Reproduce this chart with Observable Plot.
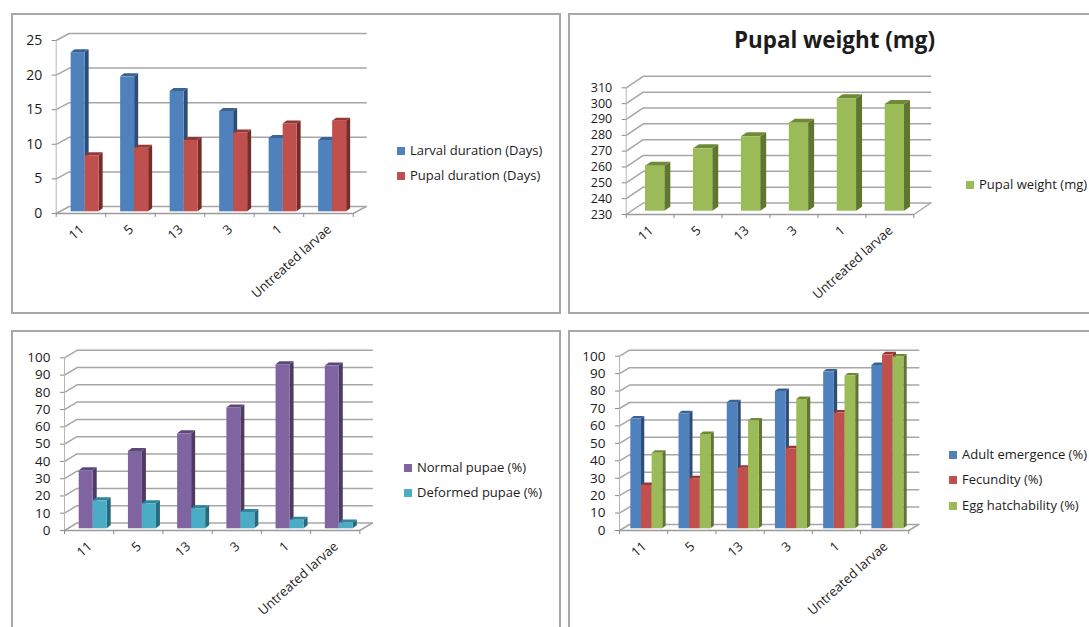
<!DOCTYPE html>
<html>
<head>
<meta charset="utf-8">
<script src="https://cdn.jsdelivr.net/npm/d3@7"></script>
<script src="https://cdn.jsdelivr.net/npm/@observablehq/plot@0.6"></script>
<style>
  html, body { margin: 0; padding: 0; background: #fff; }
  #page { position: relative; width: 1089px; height: 627px; overflow: hidden; font-family: "Open Sans", sans-serif; color: #1c1c1c; }
  .panel { position: absolute; box-sizing: border-box; border: 2px solid #a8a8a8; }
  #page svg { position: absolute; overflow: visible; background: none; }
  .legend { position: absolute; font-size: 13px; line-height: 16px; white-space: nowrap; }
  .legend i { position: absolute; left: 0; top: 4px; width: 8px; height: 8px; }
  .legend span { position: absolute; left: 13px; top: -1px; }
  .title { position: absolute; font-weight: 700; white-space: nowrap; }
</style>
</head>
<body>
<div id="page"></div>
<script>
const categories = ["11", "5", "13", "3", "1", "Untreated larvae"];

const larvalDuration = [23, 19.5, 17.4, 14.5, 10.6, 10.3];
const pupalDuration = [8.1, 9.2, 10.3, 11.4, 12.7, 13.1];
const pupalWeight = [258.4, 269.4, 277, 285.6, 301, 297.4];
const normalPupae = [33.6, 44.8, 55, 70, 95, 94.2];
const deformedPupae = [16.2, 14.5, 11.6, 9.5, 5, 3.3];
const adultEmergence = [63, 66, 72.3, 78.8, 89.9, 93.7];
const fecundity = [24.9, 28.7, 34.8, 45.9, 66.4, 99.8];
const eggHatchability = [43.4, 54.1, 61.8, 74.2, 87.6, 98.5];

const durationTicks = [0, 5, 10, 15, 20, 25];
const weightTicks = [230, 240, 250, 260, 270, 280, 290, 300, 310];
const percentTicks = [0, 10, 20, 30, 40, 50, 60, 70, 80, 90, 100];

// Office-style theme colours: front, top and side faces of a column
const blue = { front: "#4f81bd", top: "#3a6394", side: "#2c4d75" };
const red = { front: "#c0504d", top: "#953735", side: "#772c2a" };
const green = { front: "#9bbb59", top: "#6f8a36", side: "#5f7530" };
const purple = { front: "#8064a2", top: "#5c4776", side: "#4d3b62" };
const teal = { front: "#4bacc6", top: "#31859b", side: "#276a7c" };

const page = document.getElementById("page");
const gridColor = "#a6a6a6";
const font = '"Open Sans", sans-serif';

// Draws one pseudo-3D clustered column chart inside a page region.
function columnChart(c) {
  const n = categories.length;
  const width = c.box[2], height = c.box[3];
  const marginLeft = c.xL - c.box[0], marginRight = c.box[0] + width - c.xR;
  const marginTop = c.yT - c.box[1], marginBottom = c.box[1] + height - c.yB;
  const [y0, y1] = c.domain;
  const ux = px => px * n / (c.xR - c.xL);
  const uy = px => px * (y1 - y0) / (c.yB - c.yT);

  // Side wall and back wall grid lines, running from the axis into the depth
  const wall = c.ticks.flatMap(t => [
    { t, x: 0, y: t },
    { t, x: ux(c.depth[0]), y: t + uy(c.depth[1]) },
    { t, x: n + ux(c.depth[0]), y: t + uy(c.depth[1]) }
  ]);
  const floorEdge = [
    { x: n, y: y0 },
    { x: n + ux(c.depth[0]), y: y0 + uy(c.depth[1]) }
  ];

  const slot = ux(c.group) / c.series.length;
  const dx = ux(c.bar[0]), dy = uy(c.bar[1]), lift = uy(c.shift[1]);

  const columns = c.series.flatMap((s, k) => {
    const rows = s.values.map((v, i) => {
      const left = i + 0.5 - ux(c.group) / 2 + ux(c.shift[0]) + k * slot;
      return { i, left, right: left + slot, top: v + lift };
    });
    const side = rows.flatMap(r => [
      { i: r.i, x: r.right, lo: y0 + lift, hi: r.top },
      { i: r.i, x: r.right + dx, lo: y0 + lift + dy, hi: r.top + dy }
    ]);
    const cap = rows.flatMap(r => [
      { i: r.i, x: r.left, lo: r.top, hi: r.top },
      { i: r.i, x: r.left + dx, lo: r.top, hi: r.top + dy },
      { i: r.i, x: r.right, lo: r.top, hi: r.top + dy },
      { i: r.i, x: r.right + dx, lo: r.top + dy, hi: r.top + dy }
    ]);
    return [
      Plot.area(side, { x1: "x", y1: "lo", y2: "hi", z: "i", fill: s.color.side }),
      Plot.area(cap, { x1: "x", y1: "lo", y2: "hi", z: "i", fill: s.color.top }),
      Plot.rect(rows, { x1: "left", x2: "right", y1: y0 + lift, y2: "top", fill: s.color.front })
    ];
  });

  const svg = Plot.plot({
    width, height, marginLeft, marginRight, marginTop, marginBottom,
    style: { fontFamily: font, fontSize: "13px", color: "#1c1c1c", background: "none" },
    x: { domain: [0, n], axis: null },
    y: { domain: c.domain, axis: null },
    marks: [
      Plot.line(wall, { x: "x", y: "y", z: "t", stroke: gridColor, strokeWidth: 1.5 }),
      Plot.line(floorEdge, { x: "x", y: "y", stroke: gridColor, strokeWidth: 1.5 }),
      Plot.ruleX([0], { stroke: "#b5b5b5", strokeWidth: 1 }),
      Plot.ruleY([y0], { stroke: "#9a9a9a", strokeWidth: 1.5 }),
      ...columns,
      Plot.axisY({ ticks: c.ticks, tickSize: 4, tickPadding: 10, stroke: "#8a8a8a", fill: "#1c1c1c", label: null, fontSize: c.tickFont }),
      Plot.axisX({ ticks: d3.range(n + 1), tickSize: 4, stroke: "#8a8a8a", tickFormat: () => "", label: null }),
      Plot.axisX({
        ticks: categories.map((_, i) => i + 0.5),
        tickFormat: v => categories[v - 0.5],
        tickSize: 0, tickPadding: 14, tickRotate: -42, dx: 1, fill: "#1c1c1c", label: null,
        lineAnchor: "middle", textAnchor: "end", fontSize: 13
      })
    ]
  });
  svg.style.left = c.box[0] + "px";
  svg.style.top = c.box[1] + "px";
  page.appendChild(svg);
}

function frame(left, top, width, height) {
  const d = document.createElement("div");
  d.className = "panel";
  Object.assign(d.style, { left: left + "px", top: top + "px", width: width + "px", height: height + "px" });
  page.appendChild(d);
}

function legend(x, entries) {
  for (const [label, color, y] of entries) {
    const d = document.createElement("div");
    d.className = "legend";
    d.style.left = x + "px";
    d.style.top = (y - 8) + "px";
    const sw = document.createElement("i");
    sw.style.background = color;
    const tx = document.createElement("span");
    tx.textContent = label;
    d.append(sw, tx);
    page.appendChild(d);
  }
}

frame(11, 13, 550, 301);
frame(568, 13, 560, 301);
frame(11, 330, 550, 320);
frame(568, 330, 560, 320);

columnChart({
  box: [11, 13, 550, 301], xL: 55.7, xR: 352.7, yB: 213, yT: 40,
  domain: [0, 25], ticks: durationTicks, depth: [13, 7], tickFont: 14,
  group: 28, shift: [4.2, 1.7], bar: [4, 3],
  series: [{ values: larvalDuration, color: blue }, { values: pupalDuration, color: red }]
});
columnChart({
  box: [568, 13, 521, 301], xL: 625.7, xR: 913.3, yB: 214, yT: 87.3,
  domain: [230, 310], ticks: weightTicks, depth: [17, 11.5], tickFont: 12.5,
  group: 19.3, shift: [5, 3.3], bar: [6, 4],
  series: [{ values: pupalWeight, color: green }]
});
columnChart({
  box: [11, 330, 550, 297], xL: 64, xR: 359.3, yB: 530, yT: 357.3,
  domain: [0, 100], ticks: percentTicks, depth: [12.5, 7.5], tickFont: 13.5,
  group: 28, shift: [4.1, 1.7], bar: [4, 3],
  series: [{ values: normalPupae, color: purple }, { values: deformedPupae, color: teal }]
});
columnChart({
  box: [568, 330, 521, 297], xL: 619, xR: 908.3, yB: 530, yT: 355.7,
  domain: [0, 100], ticks: percentTicks, depth: [10, 6], tickFont: 13.5,
  group: 32, shift: [3.2, 1.7], bar: [3.3, 2.5],
  series: [
    { values: adultEmergence, color: blue },
    { values: fecundity, color: red },
    { values: eggHatchability, color: green }
  ]
});

legend(397, [["Larval duration (Days)", blue.front, 151], ["Pupal duration (Days)", red.front, 176]]);
legend(966, [["Pupal weight (mg)", green.front, 185]]);
legend(404, [["Normal pupae (%)", purple.front, 468], ["Deformed pupae (%)", teal.front, 493]]);
legend(949, [["Adult emergence (%)", blue.front, 455], ["Fecundity (%)", red.front, 480], ["Egg hatchability (%)", green.front, 506]]);

const title = document.createElement("div");
title.className = "title";
title.textContent = "Pupal weight (mg)";
Object.assign(title.style, { left: "734px", top: "24px", fontSize: "22.4px", lineHeight: "32px" });
page.appendChild(title);
</script>
</body>
</html>
